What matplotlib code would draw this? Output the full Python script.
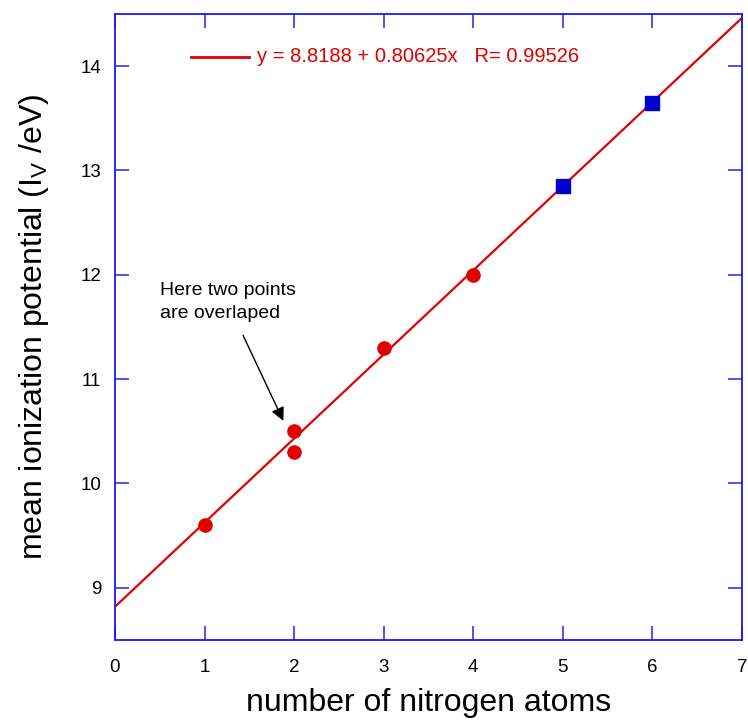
import matplotlib
matplotlib.use("Agg")
import matplotlib.pyplot as plt
import numpy as np

plt.rcParams['font.family'] = ['Liberation Sans', 'DejaVu Sans']

# data
x_red = [1, 2, 2, 3, 4]
y_red = [9.6, 10.5, 10.3, 11.3, 12.0]
x_blue = [5, 6]
y_blue = [12.85, 13.65]
intercept = 8.8188
slope = 0.80625
r_value = 0.99526
fit_x = [0, 7]
xticks = [0, 1, 2, 3, 4, 5, 6, 7]
yticks = [9, 10, 11, 12, 13, 14]

fig = plt.figure(figsize=(7.48, 7.2), dpi=100)
ax = fig.add_axes([0.1537, 0.1111, 0.8383, 0.8695])

fx = np.array(fit_x, dtype=float)
ax.plot(fx, intercept + slope * fx, color='#e00000', lw=1.6, zorder=2)
ax.plot(x_red, y_red, 'o', color='#e00000', ms=9.5, zorder=3)
ax.plot(x_blue, y_blue, 's', color='#0000cc', ms=10.5, zorder=3)

ax.set_xlim(0, 7)
ax.set_ylim(8.5, 14.5)
ax.set_xticks(xticks)
ax.set_yticks(yticks)
ax.tick_params(direction='in', length=10, width=1.2, color='#3333ee',
               top=True, right=True, labelsize=13.5, pad=14, labelcolor='black')
ax.tick_params(axis='y', pad=10)
for s in ax.spines.values():
    s.set_color('#1a1aee')
    s.set_linewidth(1.3)

ax.set_xlabel('number of nitrogen atoms', fontsize=23, labelpad=8)
ax.set_ylabel('mean ionization potential (I$_\\mathregular{V}$ /eV)', fontsize=23, labelpad=21)

# legend-like line and equation
ax.plot([0.85, 1.5], [14.09, 14.09], color='#e00000', lw=2, zorder=2)
ax.text(1.58, 14.09, 'y = %.4f + %.5fx   R= %.5f' % (intercept, slope, r_value),
        color='#e00000', fontsize=14.5, va='center', ha='left')

ax.text(0.5, 11.93, 'Here two points\nare overlaped', fontsize=14, va='top',
        ha='left', linespacing=1.45)
ax.annotate('', xy=(1.88, 10.6), xytext=(1.43, 11.42),
            arrowprops=dict(arrowstyle='-|>', color='black', lw=1, mutation_scale=20,
                            shrinkA=0, shrinkB=0))

fig.savefig('out.png', dpi=100)
